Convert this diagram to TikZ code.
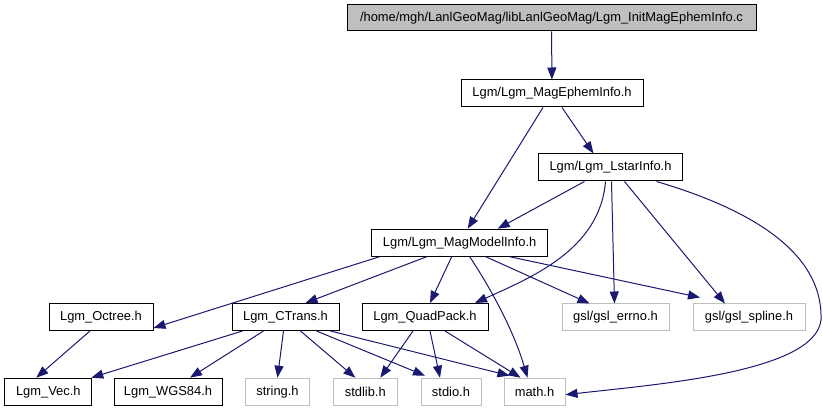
\documentclass[tikz,border=0pt]{standalone}
\usepackage{fontspec}
\setmainfont{Liberation Sans}
\usepackage{tikz}
\usetikzlibrary{arrows.meta,calc}
\definecolor{edgeblue}{HTML}{191970}
\definecolor{sysgray}{HTML}{BFBFBF}

\begin{document}
\begin{tikzpicture}[x=1pt, y=-1pt,
    hdr/.style={draw=black, line width=1pt, inner sep=0pt, minimum height=27pt,
        font=\fontsize{12.9}{15}\selectfont},
    syshdr/.style={hdr, draw=sysgray},
    root/.style={hdr, fill=sysgray, minimum height=26pt},
    dep/.style={draw=edgeblue, line width=1pt, -{Triangle[length=12pt,width=9pt]}}]
    \useasboundingbox (0,0) rectangle (823,411);

    % Top file
    \node[root, minimum width=409pt] (initc) at (551.5,18) {/home/mgh/LanlGeoMag/libLanlGeoMag/Lgm\_InitMagEphemInfo.c};

    % Project headers
    \node[hdr, minimum width=182pt] (ephem) at (552,93.5) {Lgm/Lgm\_MagEphemInfo.h};
    \node[hdr, minimum width=144pt] (lstar) at (610.5,167.5) {Lgm/Lgm\_LstarInfo.h};
    \node[hdr, minimum width=176pt] (model) at (459.7,242.7) {Lgm/Lgm\_MagModelInfo.h};
    \node[hdr, minimum width=104pt] (octree) at (101,317) {Lgm\_Octree.h};
    \node[hdr, minimum width=107pt] (ctrans) at (285.5,317) {Lgm\_CTrans.h};
    \node[hdr, minimum width=126pt] (quad) at (425,317) {Lgm\_QuadPack.h};
    \node[hdr, minimum width=87pt] (vec) at (48.3,391.7) {Lgm\_Vec.h};
    \node[hdr, minimum width=108pt] (wgs) at (168,391.7) {Lgm\_WGS84.h};

    % System headers
    \node[syshdr, minimum width=107pt] (errno) at (615.5,317.5) {gsl/gsl\_errno.h};
    \node[syshdr, minimum width=112pt] (spline) at (749,317.5) {gsl/gsl\_spline.h};
    \node[syshdr, minimum width=64pt] (string) at (277.5,391.7) {string.h};
    \node[syshdr, minimum width=64pt] (stdlib) at (365.3,391.7) {stdlib.h};
    \node[syshdr, minimum width=60pt] (stdio) at (451,391.7) {stdio.h};
    \node[syshdr, minimum width=61pt] (math) at (534.5,391.7) {math.h};

    % Includes
    \draw[dep] (initc) -- (ephem);
    \draw[dep] ([xshift=-9pt]ephem.south) -- ([xshift=8pt]model.north);
    \draw[dep] ([xshift=10pt]ephem.south) -- ([xshift=-17pt]lstar.north);
    \draw[dep] ([xshift=-26pt]lstar.south) -- ([xshift=38pt]model.north);
    \draw[dep] ([xshift=-5pt]lstar.south) .. controls (600,250) and (530,278) .. ([xshift=50pt]quad.north);
    \draw[dep] ([xshift=1pt]lstar.south) -- ([xshift=-1pt]errno.north);
    \draw[dep] ([xshift=14pt]lstar.south) -- ([xshift=-24pt]spline.north);
    \draw[dep] ([xshift=46pt]lstar.south) .. controls (770,215) and (823,262) .. (821,320)
        .. controls (815,372) and (660,384) .. ([yshift=-3pt]math.east);

    \draw[dep] ([xshift=-80pt]model.south) -- ([yshift=-11pt]octree.east);
    \draw[dep] ([xshift=-33pt]model.south) -- ([xshift=20pt]ctrans.north);
    \draw[dep] ([xshift=-8pt]model.south) -- ([xshift=5pt]quad.north);
    \draw[dep] ([xshift=10pt]model.south) .. controls (495,295) and (515,335) .. ([xshift=-7pt]math.north);
    \draw[dep] ([xshift=26pt]model.south) -- ([xshift=-26pt]errno.north);
    \draw[dep] ([xshift=50pt]model.south) -- ([xshift=-49pt,yshift=6pt]spline.north);

    \draw[dep] ([xshift=-11pt]octree.south) -- ([xshift=-12pt]vec.north);
    \draw[dep] ([xshift=-43pt]ctrans.south) -- ([xshift=43pt]vec.north);
    \draw[dep] ([xshift=-22pt]ctrans.south) -- ([xshift=22pt]wgs.north);
    \draw[dep] ([xshift=-2pt]ctrans.south) -- (string.north);
    \draw[dep] ([xshift=15pt]ctrans.south) -- ([xshift=-10pt]stdlib.north);
    \draw[dep] ([xshift=31pt]ctrans.south) -- ([xshift=-26pt,yshift=2pt]stdio.north);
    \draw[dep] ([xshift=45pt]ctrans.south) -- ([xshift=-25pt,yshift=2pt]math.north);
    \draw[dep] ([xshift=-12pt]quad.south) -- ([xshift=15pt]stdlib.north);
    \draw[dep] ([xshift=5pt]quad.south) -- ([xshift=-11pt]stdio.north);
    \draw[dep] ([xshift=20pt]quad.south) -- ([xshift=-14pt]math.north);
\end{tikzpicture}
\end{document}
